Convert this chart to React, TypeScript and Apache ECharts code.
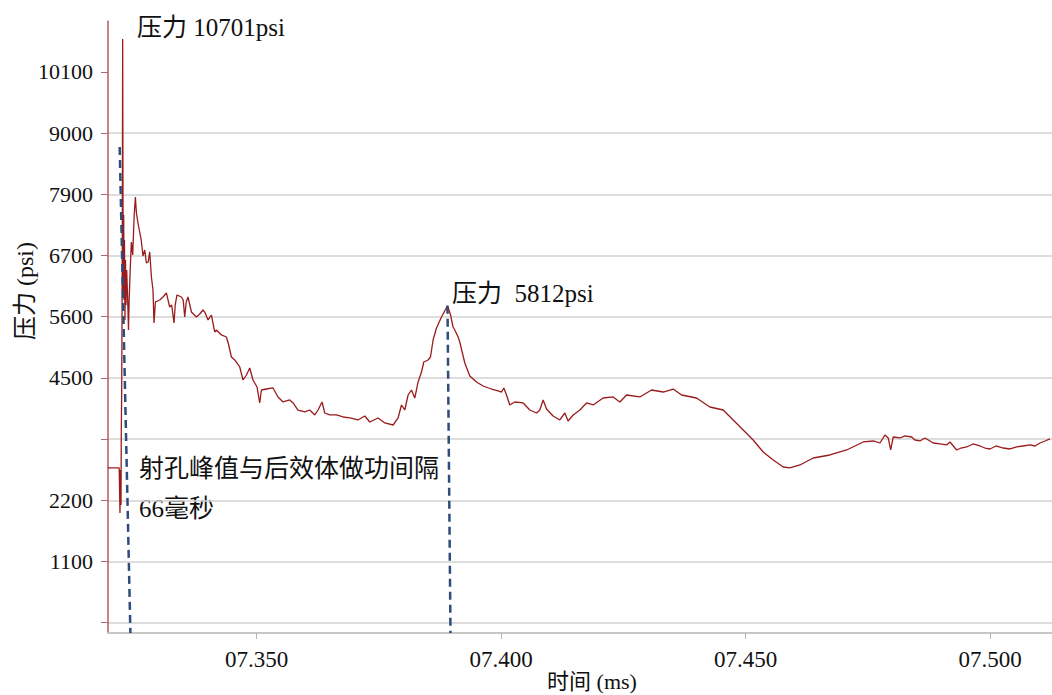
import React, { useEffect, useRef } from "react";
import * as echarts from "echarts";

// time (ms) of each sample
const timeMs = [
  7.31952, 7.32187, 7.32203, 7.32213, 7.32224, 7.3223, 7.32238, 7.32244, 7.3225, 7.32258,
  7.32265, 7.32271, 7.32279, 7.32287, 7.32295, 7.32305, 7.32316, 7.32326, 7.3234, 7.32361,
  7.32377, 7.32391, 7.32412, 7.32436, 7.32463, 7.32494, 7.32518, 7.32539, 7.32571, 7.32606,
  7.32637, 7.32674, 7.32709, 7.32743, 7.3278, 7.32811, 7.32846, 7.32878, 7.32899, 7.32927,
  7.32974, 7.33015, 7.33083, 7.33152, 7.3322, 7.33261, 7.33308, 7.33333, 7.33369, 7.33459,
  7.33496, 7.33527, 7.33558, 7.33594, 7.33664, 7.33766, 7.33834, 7.33901, 7.33946, 7.34004,
  7.34073, 7.34141, 7.34176, 7.34278, 7.3438, 7.34427, 7.34482, 7.3455, 7.34652, 7.3472,
  7.34789, 7.34857, 7.34924, 7.35006, 7.35061, 7.35096, 7.35198, 7.35333, 7.35436, 7.35538,
  7.35675, 7.35743, 7.35845, 7.35982, 7.36084, 7.36187, 7.36254, 7.36336, 7.36391, 7.36494,
  7.36631, 7.36766, 7.36903, 7.37073, 7.3721, 7.37312, 7.37482, 7.37619, 7.37789, 7.37891,
  7.37961, 7.38028, 7.38096, 7.38165, 7.38233, 7.383, 7.3837, 7.38417, 7.38505, 7.38554,
  7.38607, 7.38677, 7.38779, 7.38902, 7.38959, 7.39016, 7.39051, 7.39119, 7.39153, 7.39256,
  7.39358, 7.39495, 7.3963, 7.39802, 7.39937, 7.40007, 7.40054, 7.40109, 7.40176, 7.40279,
  7.40449, 7.40586, 7.40723, 7.4079, 7.40858, 7.40927, 7.41062, 7.41199, 7.41302, 7.41369,
  7.41472, 7.41609, 7.41746, 7.41881, 7.42085, 7.4229, 7.42427, 7.42564, 7.42836, 7.43076,
  7.43313, 7.43518, 7.43689, 7.43996, 7.44268, 7.44541, 7.44745, 7.4495, 7.45154, 7.45359,
  7.45564, 7.45768, 7.45905, 7.4611, 7.46382, 7.46724, 7.47065, 7.47405, 7.4761, 7.47747,
  7.47849, 7.47916, 7.47966, 7.48019, 7.48156, 7.48258, 7.48395, 7.48463, 7.48565, 7.48667,
  7.48837, 7.48974, 7.49111, 7.49179, 7.49316, 7.49404, 7.49521, 7.49649, 7.49793, 7.49895,
  7.49997, 7.5012, 7.50269, 7.50406, 7.50544, 7.50672, 7.50816, 7.50918, 7.5102, 7.51123,
  7.51225,
];

// pressure (psi) of each sample
const pressurePsi = [
  2837, 2837, 2012, 2800, 2158, 3534, 4230, 5367, 6834, 10701,
  7751, 6101, 7476, 5917, 7018, 5551, 6651, 5826, 6468, 5917,
  5367, 5917, 6468, 6981, 6743, 7476, 7806, 7513, 7329, 7164,
  7018, 6724, 6834, 6596, 6614, 6798, 6339, 6101, 5496, 5881,
  5899, 5917, 5972, 6046, 5789, 5826, 5496, 5826, 6009, 5972,
  5917, 5606, 5881, 5972, 5697, 5606, 5661, 5734, 5679, 5551,
  5642, 5331, 5367, 5276, 5239, 5092, 4872, 4817, 4689, 4450,
  4542, 4670, 4450, 4322, 4029, 4267, 4285, 4304, 4139, 4047,
  4084, 4029, 3900, 3864, 3900, 3809, 3900, 4047, 3845, 3809,
  3809, 3772, 3754, 3717, 3790, 3680, 3754, 3662, 3625, 3754,
  3992, 3900, 4175, 4267, 4120, 4414, 4597, 4780, 4817, 4872,
  5184, 5404, 5606, 5812, 5661, 5422, 5367, 5239, 5147, 4762,
  4524, 4414, 4340, 4285, 4249, 4230, 4304, 4175, 3992, 4047,
  4029, 3900, 3845, 3900, 4084, 3919, 3790, 3717, 3845, 3699,
  3809, 3900, 4029, 3992, 4120, 4139, 4047, 4175, 4139, 4267,
  4230, 4285, 4175, 4120, 3955, 3900, 3717, 3534, 3350, 3130,
  2983, 2855, 2837, 2892, 3020, 3075, 3167, 3314, 3332, 3295,
  3442, 3387, 3167, 3405, 3387, 3424, 3405, 3350, 3332, 3387,
  3295, 3277, 3259, 3314, 3167, 3203, 3222, 3277, 3240, 3203,
  3185, 3240, 3203, 3185, 3222, 3240, 3259, 3240, 3295, 3332,
  3369,
];

// dashed marker lines: [startTime, startPsi, endTime, endPsi]
const markerLines = [
  [7.32197, 8723, 7.32416, -189],
  [7.38902, 5812, 7.38963, -189],
];

const xTickValues = [7.35, 7.4, 7.45, 7.5];
const xTickLabels = ["07.350", "07.400", "07.450", "07.500"];

const yTickValues = [0, 1122, 2244, 3367, 4489, 5611, 6733, 7856, 8978, 10100];
const yTickLabels = ["", "1100", "2200", "", "4500", "5600", "6700", "7900", "9000", "10100"];

const xRange = [7.31958, 7.51266];
const yRange = [-189, 11033];

const peakLabel = "压力 10701psi";
const secondPeakLabel = "压力  5812psi";
const intervalLabel1 = "射孔峰值与后效体做功间隔";
const intervalLabel2 = "66毫秒";
const yName = "压力 (psi)";
const xName = "时间 (ms)";

function nearestLabel(values: number[], labels: string[], v: number) {
  let best = -1;
  let bestD = Infinity;
  values.forEach((tv, i) => {
    const d = Math.abs(tv - v);
    if (d < bestD) {
      bestD = d;
      best = i;
    }
  });
  const span = Math.abs(values[values.length - 1] - values[0]) || 1;
  return best >= 0 && bestD < span * 0.01 ? labels[best] : "";
}

const serif = "'Liberation Serif', 'Times New Roman', 'Noto Sans CJK SC', serif";
const cjk = "'Noto Sans CJK SC', sans-serif";

export default function App() {
  const ref = useRef<HTMLDivElement>(null);

  useEffect(() => {
    document.body.style.margin = "0";
    if (!ref.current) return;
    const chart = echarts.init(ref.current, undefined, { renderer: "svg" });
    const data = timeMs.map((t, i) => [t, pressurePsi[i]]);

    chart.setOption({
      animation: false,
      backgroundColor: "#ffffff",
      grid: { left: 108, right: 0, top: 21, bottom: 62 },
      xAxis: {
        type: "value",
        min: xRange[0],
        max: xRange[1],
        axisLine: { show: true, onZero: false, lineStyle: { color: "#c6c6c6", width: 2 } },
        axisTick: {
          show: true,
          length: 6,
          customValues: xTickValues,
          lineStyle: { color: "#b8b8b8", width: 1 },
        },
        axisLabel: {
          customValues: xTickValues,
          margin: 15,
          fontSize: 23,
          fontFamily: serif,
          color: "#111",
          formatter: (v: number) => nearestLabel(xTickValues, xTickLabels, v),
        },
        splitLine: { show: false },
      },
      yAxis: {
        type: "value",
        min: yRange[0],
        max: yRange[1],
        axisLine: { show: true, onZero: false, lineStyle: { color: "#b45a5c", width: 1.5 } },
        axisTick: {
          show: true,
          length: 7,
          customValues: yTickValues,
          lineStyle: { color: "#a86a6a", width: 1 },
        },
        axisLabel: {
          customValues: yTickValues,
          margin: 15,
          fontSize: 22,
          fontFamily: serif,
          color: "#111",
          formatter: (v: number) => nearestLabel(yTickValues, yTickLabels, v),
        },
        splitLine: { show: true, showMinLine: true, showMaxLine: false, lineStyle: { color: "#d2d2d2", width: 1.5 } },
      },
      series: [
        {
          type: "line",
          data,
          showSymbol: false,
          symbol: "none",
          lineStyle: { color: "#9a1b1b", width: 1.3 },
          z: 3,
          markLine: {
            silent: true,
            symbol: ["none", "none"],
            label: { show: false },
            lineStyle: { color: "#2f4c7a", width: 2.5, type: [8, 5] },
            data: markerLines.map((m) => [
              { coord: [m[0], m[1]] },
              { coord: [m[2], m[3]] },
            ]),
          },
        },
      ],
      graphic: [
        {
          type: "text",
          x: 137,
          y: 27,
          style: { text: peakLabel, fontSize: 25, fontFamily: serif, fill: "#111", align: "left", verticalAlign: "middle" },
        },
        {
          type: "text",
          x: 452,
          y: 293,
          style: { text: secondPeakLabel, fontSize: 25, fontFamily: serif, fill: "#111", align: "left", verticalAlign: "middle" },
        },
        {
          type: "text",
          x: 139,
          y: 466,
          style: { text: intervalLabel1, fontSize: 25, fontFamily: cjk, fill: "#111", align: "left", verticalAlign: "middle" },
        },
        {
          type: "text",
          x: 139,
          y: 508,
          style: { text: intervalLabel2, fontSize: 25, fontFamily: serif, fill: "#111", align: "left", verticalAlign: "middle" },
        },
        {
          type: "text",
          x: 25,
          y: 291,
          rotation: Math.PI / 2,
          style: { text: yName, fontSize: 24, fontFamily: serif, fill: "#111", align: "center", verticalAlign: "middle" },
        },
        {
          type: "text",
          x: 592,
          y: 681,
          style: { text: xName, fontSize: 22, fontFamily: serif, fill: "#111", align: "center", verticalAlign: "middle" },
        },
      ],
    });

    return () => chart.dispose();
  }, []);

  return <div ref={ref} style={{ width: 1052, height: 695 }} />;
}
